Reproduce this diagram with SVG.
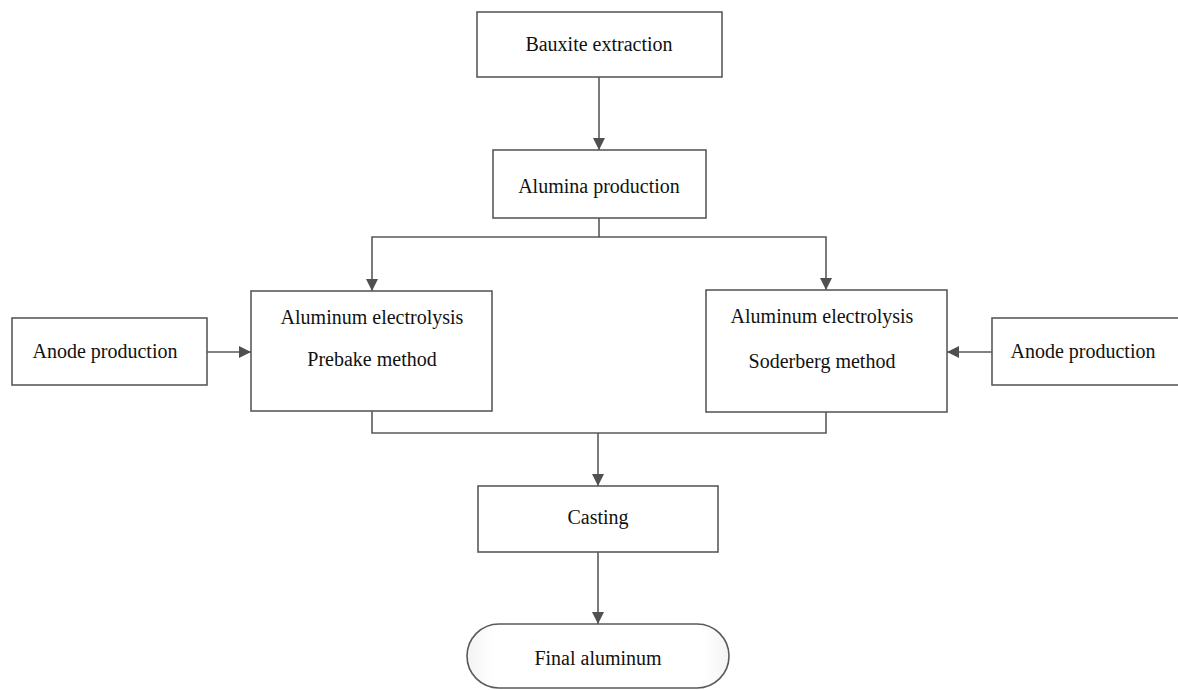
<svg xmlns="http://www.w3.org/2000/svg" width="1178" height="690" viewBox="0 0 1178 690">
<style>
.box{fill:#fff;stroke:#5a5a5a;stroke-width:1.6}
.ln{fill:none;stroke:#5a5a5a;stroke-width:1.6}
.t{font-family:"Liberation Serif","Times New Roman",serif;font-size:20px;fill:#111;text-anchor:middle}
</style>
<defs>
<marker id="ah" markerWidth="12" markerHeight="12" viewBox="0 0 12 12" refX="12" refY="6" orient="auto" markerUnits="userSpaceOnUse">
<path d="M0,0 L12,6 L0,12 Z" fill="#505050"/>
</marker>
<linearGradient id="tg" x1="0" y1="0" x2="1" y2="0">
<stop offset="0" stop-color="#f3f3f3"/>
<stop offset="0.1" stop-color="#fff"/>
<stop offset="0.9" stop-color="#fff"/>
<stop offset="1" stop-color="#f3f3f3"/>
</linearGradient>
</defs>
<g id="connectors">
<line class="ln" x1="599" y1="77" x2="599" y2="150" marker-end="url(#ah)"/>
<polyline class="ln" points="599,218 599,237 372,237 372,291" marker-end="url(#ah)"/>
<polyline class="ln" points="599,237 826,237 826,290" marker-end="url(#ah)"/>
<line class="ln" x1="207" y1="352" x2="251" y2="352" marker-end="url(#ah)"/>
<line class="ln" x1="992" y1="352" x2="947" y2="352" marker-end="url(#ah)"/>
<polyline class="ln" points="372,411 372,433 826,433 826,412"/>
<line class="ln" x1="598" y1="433" x2="598" y2="486" marker-end="url(#ah)"/>
<line class="ln" x1="598" y1="552" x2="598" y2="624" marker-end="url(#ah)"/>
</g>
<g id="bauxite">
<rect class="box" x="477" y="12" width="245" height="65"/>
<text class="t" x="599" y="51">Bauxite extraction</text>
</g>
<g id="alumina">
<rect class="box" x="493" y="150" width="213" height="68"/>
<text class="t" x="599" y="193">Alumina production</text>
</g>
<g id="electrolysis-prebake">
<rect class="box" x="251" y="291" width="241" height="120"/>
<text class="t" x="372" y="324">Aluminum electrolysis</text>
<text class="t" x="372" y="366">Prebake method</text>
</g>
<g id="anode-left">
<rect class="box" x="12" y="318" width="195" height="67"/>
<text class="t" x="105" y="358">Anode production</text>
</g>
<g id="electrolysis-soderberg">
<rect class="box" x="706" y="290" width="241" height="122"/>
<text class="t" x="822" y="323">Aluminum electrolysis</text>
<text class="t" x="822" y="368">Soderberg method</text>
</g>
<g id="anode-right">
<rect class="box" x="992" y="318" width="195" height="67"/>
<text class="t" x="1083" y="358">Anode production</text>
</g>
<g id="casting">
<rect class="box" x="478" y="486" width="240" height="66"/>
<text class="t" x="598" y="524">Casting</text>
</g>
<g id="final">
<rect x="467" y="624" width="262" height="64" rx="32" ry="32" fill="url(#tg)" stroke="#5a5a5a" stroke-width="1.6"/>
<text class="t" x="598" y="665">Final aluminum</text>
</g>
</svg>
